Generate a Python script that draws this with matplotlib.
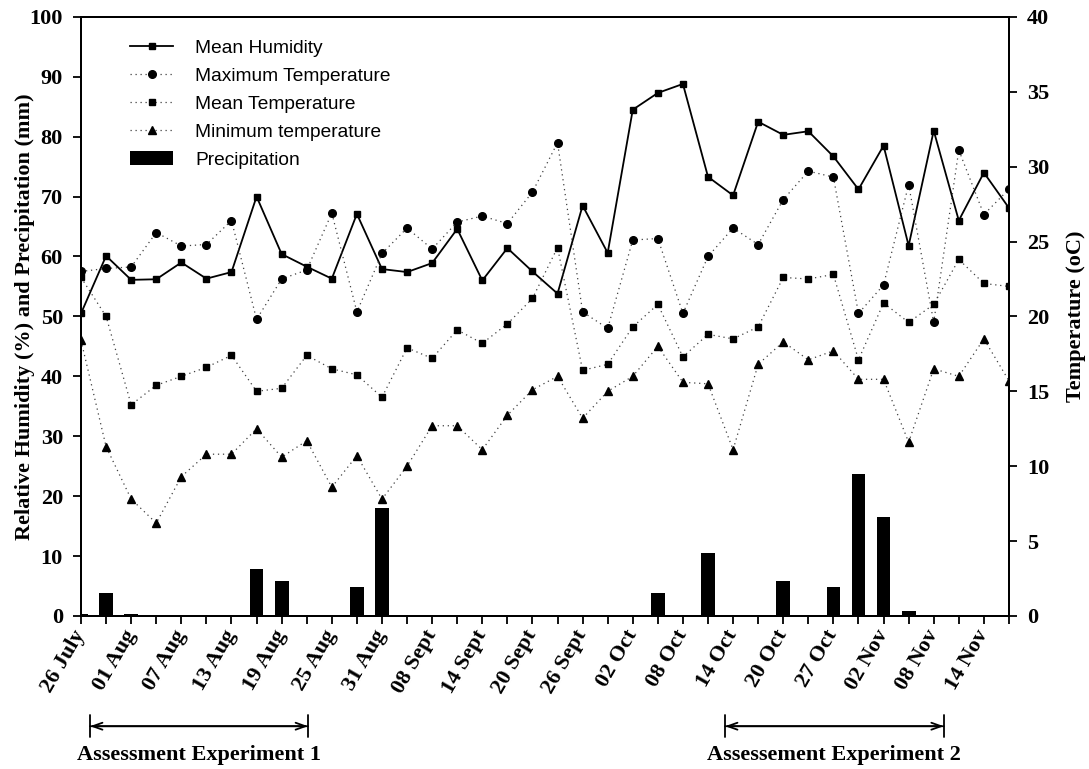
import matplotlib
matplotlib.use("Agg")
import matplotlib.pyplot as plt
import matplotlib.transforms as mtransforms
import numpy as np

# sampling dates (every 3 days), labels only on every second sample
date_labels = ["26 July", "01 Aug", "07 Aug", "13 Aug", "19 Aug", "25 Aug", "31 Aug",
               "08 Sept", "14 Sept", "20 Sept", "26 Sept", "02 Oct", "08 Oct", "14 Oct",
               "20 Oct", "27 Oct", "02 Nov", "08 Nov", "14 Nov"]

mean_humidity = [50.5, 60.1, 56.1, 56.2, 59.0, 56.3, 57.4, 70.0, 60.4, 58.3,
                 56.3, 67.1, 57.9, 57.4, 58.9, 64.6, 56.0, 61.4, 57.5, 53.8,
                 68.5, 60.6, 84.5, 87.3, 88.8, 73.3, 70.2, 82.5, 80.3, 80.9,
                 76.7, 71.2, 78.5, 61.8, 81.0, 66.0, 74.0, 68.1]

max_temp = [23.0, 23.2, 23.3, 25.6, 24.7, 24.8, 26.4, 19.8, 22.5, 23.1,
            26.9, 20.3, 24.2, 25.9, 24.5, 26.3, 26.7, 26.2, 28.3, 31.6,
            20.3, 19.2, 25.1, 25.2, 20.2, 24.0, 25.9, 24.8, 27.8, 29.7,
            29.3, 20.2, 22.1, 28.8, 19.6, 31.1, 26.8, 28.5]

mean_temp = [22.6, 20.0, 14.1, 15.4, 16.0, 16.6, 17.4, 15.0, 15.2, 17.4,
             16.5, 16.1, 14.6, 17.9, 17.2, 19.1, 18.2, 19.5, 21.2, 24.6,
             16.4, 16.8, 19.3, 20.8, 17.3, 18.8, 18.5, 19.3, 22.6, 22.5,
             22.8, 17.1, 20.9, 19.6, 20.8, 23.8, 22.2, 22.0]

min_temp = [18.4, 11.3, 7.8, 6.2, 9.3, 10.8, 10.8, 12.5, 10.6, 11.7,
            8.6, 10.7, 7.8, 10.0, 12.7, 12.7, 11.1, 13.4, 15.1, 16.0,
            13.2, 15.0, 16.0, 18.0, 15.6, 15.5, 11.1, 16.8, 18.3, 17.1,
            17.7, 15.8, 15.8, 11.6, 16.5, 16.0, 18.5, 15.7]

precipitation = [0.3, 3.8, 0.3, 0, 0, 0, 0, 7.9, 5.8, 0,
                 0, 4.8, 18.0, 0, 0, 0, 0, 0, 0, 0,
                 0, 0, 0, 3.8, 0, 10.5, 0, 0, 5.8, 0.2,
                 4.8, 23.7, 16.5, 0.8, 0, 0, 0, 0]

x = np.arange(len(mean_humidity))

serif = "Liberation Serif"
sans = "Liberation Sans"

fig = plt.figure(figsize=(10.89, 7.69), dpi=100)
ax = fig.add_axes([0.0744, 0.199, 0.8521, 0.7791])
ax2 = ax.twinx()

bars = ax.bar(x, precipitation, width=0.55, color="black", zorder=2)
h_hum, = ax.plot(x, mean_humidity, "-", color="black", lw=1.3, marker="s", ms=5,
                 zorder=3)

dot = (0, (1, 3))
h_max, = ax2.plot(x, max_temp, linestyle=dot, color="0.25", lw=0.9, marker="o",
                  ms=5.5, mfc="black", mec="black")
h_mean, = ax2.plot(x, mean_temp, linestyle=dot, color="0.25", lw=0.9, marker="s",
                   ms=5, mfc="black", mec="black")
h_min, = ax2.plot(x, min_temp, linestyle=dot, color="0.25", lw=0.9, marker="^",
                  ms=5.5, mfc="black", mec="black")

ax.set_xlim(0, len(x) - 1)
ax.set_ylim(0, 100)
ax2.set_ylim(0, 40)
ax.set_yticks(np.arange(0, 101, 10))
ax2.set_yticks(np.arange(0, 41, 5))

ax.set_xticks(x)
ticklabels = [""] * len(x)
for i, lab in enumerate(date_labels):
    ticklabels[2 * i] = lab
ax.set_xticklabels(ticklabels, rotation=60, ha="right", va="center",
                   rotation_mode="anchor", family=serif, weight="bold", fontsize=16)
shift = mtransforms.ScaledTranslation(9 / 72, 0, fig.dpi_scale_trans)
for lab in ax.get_xticklabels():
    lab.set_transform(lab.get_transform() + shift)
for lab in ax.get_yticklabels() + ax2.get_yticklabels():
    lab.set_family(serif)
    lab.set_weight("bold")
    lab.set_fontsize(16)

ax.tick_params(axis="x", direction="out", length=6, width=1.3, pad=5)
ax.tick_params(axis="y", direction="out", length=6, width=1.3, pad=7)
ax2.tick_params(axis="y", direction="out", length=6, width=1.3, pad=7)
for a in (ax, ax2):
    for s in a.spines.values():
        s.set_linewidth(1.4)

ax.set_ylabel("Relative Humidity (%) and Precipitation (mm)", family=serif,
              weight="bold", fontsize=16)
ax.yaxis.set_label_coords(-0.050, 0.5)
ax2.set_ylabel("Temperature (oC)", family=serif, weight="bold", fontsize=16,
               labelpad=12)

leg = ax2.legend([h_hum, h_max, h_mean, h_min, bars],
                 ["Mean Humidity", "Maximum Temperature", "Mean Temperature",
                  "Minimum temperature", "Precipitation"],
                 loc="upper left", bbox_to_anchor=(0.053, 0.962), frameon=False,
                 borderaxespad=0, borderpad=0, handlelength=2.25, handletextpad=1.15,
                 labelspacing=0.55, prop={"family": sans, "size": 13.8})

# experiment periods below the date axis
trans = mtransforms.blended_transform_factory(ax.transData, ax.transAxes)
periods = [(0.36, 9.05, "Assessment Experiment 1"),
           (25.68, 34.4, "Assessement Experiment 2")]
for x0, x1, name in periods:
    ax.annotate("", xy=(x0, -0.184), xytext=(x1, -0.184), xycoords=trans,
                textcoords=trans, annotation_clip=False,
                arrowprops=dict(arrowstyle="|-|,widthA=0.8,widthB=0.8", lw=1.3,
                                shrinkA=0, shrinkB=0))
    ax.annotate("", xy=(x0, -0.184), xytext=(x1, -0.184), xycoords=trans,
                textcoords=trans, annotation_clip=False,
                arrowprops=dict(arrowstyle="<->,head_length=0.7,head_width=0.25",
                                lw=1.3, shrinkA=0, shrinkB=0))
    ax.text((x0 + x1) / 2, -0.240, name, transform=trans, ha="center",
            va="baseline", family=serif, weight="bold", fontsize=16)

fig.savefig("out.png", dpi=100)
